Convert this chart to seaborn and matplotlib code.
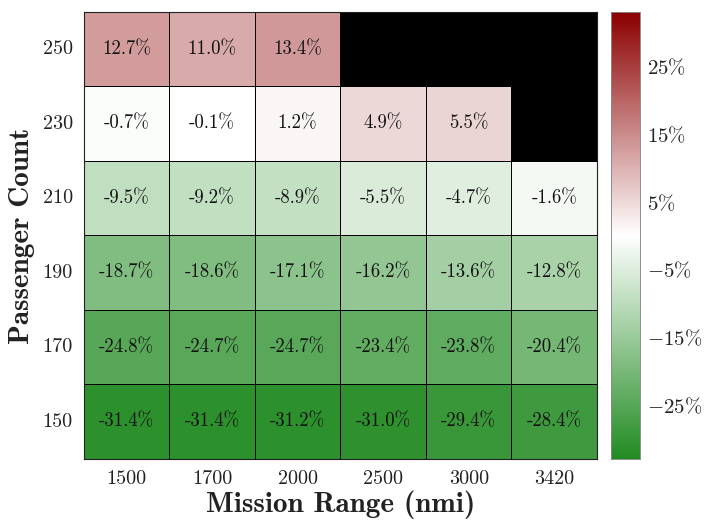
import numpy as np
import pandas as pd
import matplotlib
matplotlib.use("Agg")
import matplotlib.pyplot as plt
from matplotlib.colors import LinearSegmentedColormap
import seaborn as sns

ranges = [1500, 1700, 2000, 2500, 3000, 3420]
passengers = [250, 230, 210, 190, 170, 150]
row_250 = [12.7, 11.0, 13.4, np.nan, np.nan, np.nan]
row_230 = [-0.7, -0.1, 1.2, 4.9, 5.5, np.nan]
row_210 = [-9.5, -9.2, -8.9, -5.5, -4.7, -1.6]
row_190 = [-18.7, -18.6, -17.1, -16.2, -13.6, -12.8]
row_170 = [-24.8, -24.7, -24.7, -23.4, -23.8, -20.4]
row_150 = [-31.4, -31.4, -31.2, -31.0, -29.4, -28.4]
cbar_ticks = [-25, -15, -5, 5, 15, 25]

df = pd.DataFrame([row_250, row_230, row_210, row_190, row_170, row_150],
                  index=passengers, columns=ranges)
labels = df.map(lambda v: "" if np.isnan(v) else f"{v:.1f}%")

sns.set_theme(style="white")
plt.rcParams["mathtext.fontset"] = "cm"
plt.rcParams["axes.formatter.use_mathtext"] = True

cmap = LinearSegmentedColormap.from_list("gwr", ["#228b22", "#ffffff", "#8b0000"])

fig = plt.figure(figsize=(7.04, 5.21), dpi=100)
ax = fig.add_axes([0.119, 0.119, 0.729, 0.858])
cax = fig.add_axes([0.868, 0.119, 0.041, 0.858])
ax.set_facecolor("black")

sns.heatmap(df, ax=ax, cbar_ax=cax, cmap=cmap, vmin=-33, vmax=33,
            annot=labels, fmt="", linewidths=0.5, linecolor="black",
            annot_kws={"fontfamily": "cmr10", "fontsize": 13.5, "color": "#111111"})

ax.set_xticklabels([str(r) for r in ranges], fontfamily="cmr10", fontsize=14.5, rotation=0, color="#222222")
ax.set_yticklabels([str(p) for p in passengers], fontfamily="cmr10", fontsize=14.5, rotation=0, color="#222222")
ax.tick_params(axis="both", length=0, pad=8)
ax.set_xlabel("Mission Range (nmi)", fontfamily="cmb10", fontsize=21, labelpad=2, color="#222222")
ax.set_ylabel("Passenger Count", fontfamily="cmb10", fontsize=21, labelpad=5, color="#222222")
for s in ax.spines.values():
    s.set_visible(True)
    s.set_color("#222222")
    s.set_linewidth(0.8)

cax.set_yticks(cbar_ticks)
cax.set_yticklabels([f"${t}\\%$" for t in cbar_ticks], fontsize=15, color="#222222")
cax.tick_params(axis="y", length=4, width=0.6, color="#555555", direction="in", pad=5)
for s in cax.spines.values():
    s.set_visible(True)
    s.set_color("#888888")
    s.set_linewidth(0.5)

fig.savefig("out.png", dpi=100)
